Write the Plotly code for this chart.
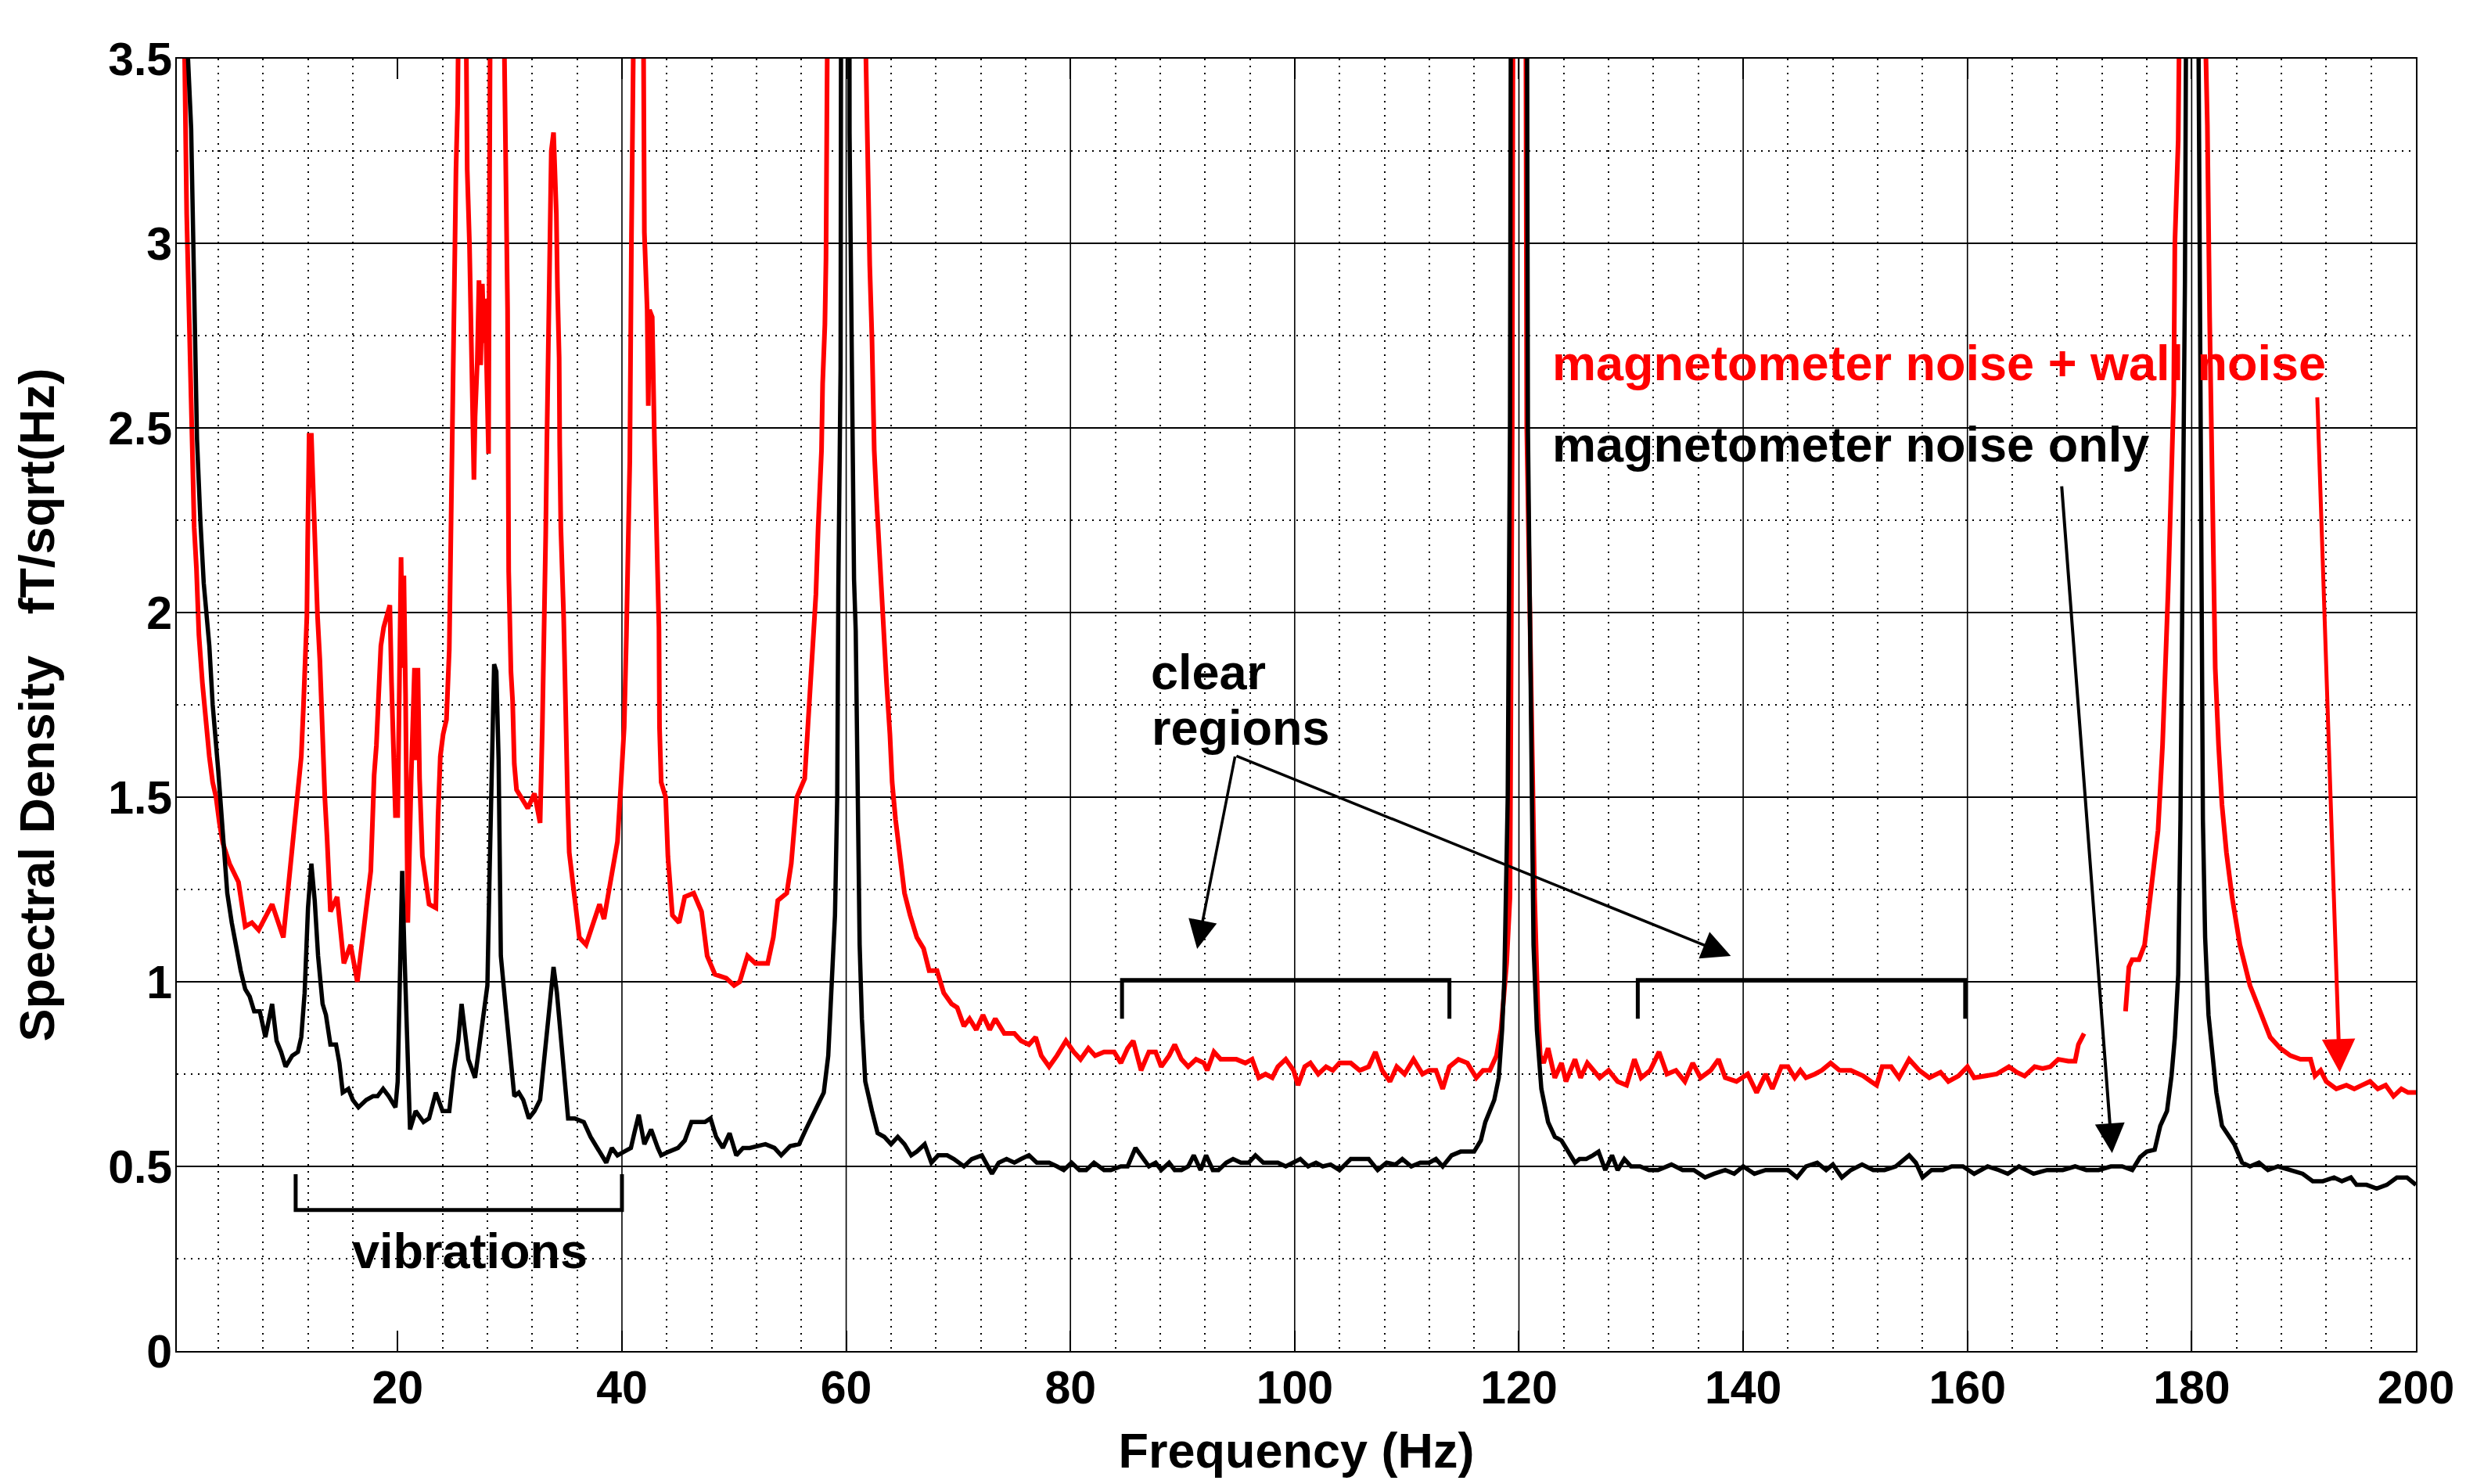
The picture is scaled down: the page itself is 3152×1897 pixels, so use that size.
import plotly.graph_objects as go

# ---- data (frequency in Hz, spectral density in fT/sqrt(Hz)) ----
RED = [
    (0.3, 8.0), (1.0, 3.5), (1.18, 3.08), (1.33, 2.88), (1.5, 2.69), (1.64, 2.50), (1.72, 2.34),
    (1.85, 2.23), (2.05, 2.12), (2.27, 1.94), (2.58, 1.81), (2.89, 1.69), (3.2, 1.61), (3.5, 1.54),
    (3.8, 1.50), (4.1, 1.43), (4.4, 1.376), (5.0, 1.32), (5.8, 1.27), (6.4, 1.15), (7.0, 1.16),
    (7.6, 1.14), (8.8, 1.21), (9.8, 1.12), (10.4, 1.30), (10.8, 1.40), (11.1, 1.50), (11.4, 1.61),
    (11.6, 1.75), (11.75, 1.87), (11.9, 1.99), (11.97, 2.19), (12.07, 2.38), (12.1, 2.48), (12.3, 2.48),
    (12.4, 2.38), (12.5, 2.26), (12.7, 2.12), (12.85, 1.99), (13.06, 1.87), (13.2, 1.75), (13.3, 1.61),
    (13.5, 1.50), (13.7, 1.39), (14.0, 1.19), (14.6, 1.23), (15.2, 1.05), (15.8, 1.10), (16.4, 1.00),
    (17.0, 1.15), (17.6, 1.30), (17.9, 1.56), (18.1, 1.64), (18.35, 1.81), (18.5, 1.91), (18.75, 1.96),
    (19.0, 1.99), (19.3, 2.02), (19.45, 1.81), (19.6, 1.66), (19.8, 1.45), (20.0, 1.45), (20.15, 1.95),
    (20.3, 2.15), (20.45, 1.85), (20.55, 2.10), (20.7, 1.78), (20.9, 1.16), (21.2, 1.55), (21.5, 1.85),
    (21.65, 1.60), (21.8, 1.85), (21.95, 1.55), (22.2, 1.34), (22.8, 1.21), (23.4, 1.20), (23.6, 1.45),
    (23.8, 1.61), (24.05, 1.67), (24.35, 1.71), (24.6, 1.90), (24.75, 2.24), (24.9, 2.57), (25.0, 2.91),
    (25.2, 3.20), (25.35, 3.38), (25.7, 4.5), (26.0, 4.0), (26.2, 3.20), (26.4, 3.00), (26.5, 2.79),
    (26.6, 2.61), (26.8, 2.36), (26.9, 2.53), (27.1, 2.68), (27.25, 2.90), (27.4, 2.67), (27.55, 2.89),
    (27.7, 2.73), (27.8, 2.85), (28.0, 2.58), (28.1, 2.43), (28.25, 3.6), (28.8, 4.5), (29.4, 3.8),
    (29.5, 3.40), (29.65, 3.18), (29.8, 2.82), (29.9, 2.11), (30.1, 1.84), (30.25, 1.76), (30.4, 1.59),
    (30.6, 1.52), (31.2, 1.49), (31.6, 1.47), (32.2, 1.51), (32.7, 1.43), (32.9, 1.69), (33.1, 1.98),
    (33.2, 2.21), (33.3, 2.45), (33.45, 2.70), (33.55, 2.96), (33.7, 3.25), (33.9, 3.30), (34.0, 3.22),
    (34.15, 3.08), (34.25, 2.88), (34.4, 2.69), (34.45, 2.45), (34.55, 2.23), (34.8, 1.99), (34.95, 1.74),
    (35.15, 1.50), (35.3, 1.35), (35.8, 1.21), (36.2, 1.12), (36.8, 1.10), (37.4, 1.16), (38.0, 1.21),
    (38.4, 1.17), (39.0, 1.28), (39.6, 1.38), (39.9, 1.53), (40.2, 1.69), (40.4, 1.94), (40.55, 2.19),
    (40.7, 2.41), (40.85, 3.02), (41.0, 3.7), (41.5, 5.0), (41.9, 3.7), (42.0, 3.03), (42.25, 2.82),
    (42.35, 2.56), (42.45, 2.82), (42.7, 2.80), (42.9, 2.46), (43.0, 2.35), (43.1, 2.17), (43.3, 1.96),
    (43.35, 1.69), (43.5, 1.54), (43.9, 1.50), (44.1, 1.34), (44.5, 1.18), (45.1, 1.16), (45.6, 1.23),
    (46.4, 1.24), (47.1, 1.19), (47.6, 1.07), (48.3, 1.02), (49.3, 1.01), (50.0, 0.99), (50.5, 1.00),
    (51.2, 1.07), (51.9, 1.05), (53.0, 1.05), (53.5, 1.12), (53.9, 1.22), (54.7, 1.24), (55.1, 1.32),
    (55.6, 1.50), (56.3, 1.55), (56.6, 1.71), (57.0, 1.91), (57.3, 2.05), (57.5, 2.23), (57.8, 2.44),
    (57.9, 2.62), (58.1, 2.78), (58.2, 2.96), (58.3, 3.18), (58.5, 3.41), (58.6, 3.6), (60.0, 12.0),
    (61.7, 3.6), (61.8, 3.39), (62.0, 3.16), (62.1, 2.94), (62.3, 2.74), (62.4, 2.58), (62.5, 2.44),
    (62.7, 2.31), (62.9, 2.19), (63.1, 2.05), (63.3, 1.93), (63.6, 1.81), (63.9, 1.67), (64.1, 1.54),
    (64.4, 1.44), (64.8, 1.34), (65.2, 1.24), (65.7, 1.18), (66.3, 1.12), (66.9, 1.09), (67.4, 1.03),
    (68.1, 1.03), (68.7, 0.97), (69.4, 0.94), (69.9, 0.93), (70.5, 0.88), (71.0, 0.90), (71.6, 0.87),
    (72.2, 0.91), (72.8, 0.87), (73.3, 0.90), (74.1, 0.86), (75.0, 0.86), (75.6, 0.84), (76.3, 0.83),
    (76.9, 0.85), (77.4, 0.80), (78.1, 0.77), (78.8, 0.80), (79.6, 0.84), (80.3, 0.81), (80.9, 0.79),
    (81.6, 0.82), (82.2, 0.80), (83.0, 0.81), (83.9, 0.81), (84.5, 0.78), (85.1, 0.82), (85.6, 0.84),
    (86.3, 0.76), (87.0, 0.81), (87.6, 0.81), (88.1, 0.77), (88.8, 0.80), (89.3, 0.83), (89.9, 0.79),
    (90.5, 0.77), (91.2, 0.79), (91.9, 0.78), (92.2, 0.76), (92.8, 0.81), (93.4, 0.79), (94.8, 0.79),
    (95.6, 0.78), (96.2, 0.79), (96.8, 0.74), (97.4, 0.75), (98.0, 0.74), (98.5, 0.77), (99.2, 0.79),
    (99.9, 0.76), (100.3, 0.72), (100.9, 0.77), (101.4, 0.78), (102.1, 0.75), (102.8, 0.77), (103.4, 0.76),
    (104.0, 0.78), (105.0, 0.78), (105.8, 0.76), (106.6, 0.77), (107.2, 0.81), (107.8, 0.76), (108.5, 0.73),
    (109.1, 0.77), (109.8, 0.75), (110.6, 0.79), (111.4, 0.75), (112.0, 0.76), (112.6, 0.76), (113.2, 0.71),
    (113.8, 0.77), (114.6, 0.79), (115.4, 0.78), (116.2, 0.74), (116.8, 0.76), (117.4, 0.76), (118.0, 0.80),
    (118.4, 0.87), (118.9, 1.05), (119.2, 1.23), (119.4, 2.5), (120.0, 12.0), (120.7, 2.5), (121.4, 1.23),
    (121.7, 0.91), (121.9, 0.80), (122.2, 0.78), (122.6, 0.82), (123.2, 0.74), (123.8, 0.78), (124.2, 0.73),
    (125.0, 0.79), (125.5, 0.74), (126.1, 0.78), (127.2, 0.74), (128.0, 0.76), (128.8, 0.73), (129.6, 0.72),
    (130.3, 0.79), (130.9, 0.74), (131.7, 0.76), (132.5, 0.81), (133.2, 0.75), (134.0, 0.76), (134.8, 0.73),
    (135.5, 0.78), (136.2, 0.74), (137.1, 0.76), (137.8, 0.79), (138.4, 0.74), (139.4, 0.73), (140.4, 0.75),
    (141.2, 0.70), (142.0, 0.75), (142.6, 0.71), (143.4, 0.77), (144.0, 0.77), (144.6, 0.74), (145.1, 0.76),
    (145.6, 0.74), (146.4, 0.75), (147.0, 0.76), (147.8, 0.78), (148.6, 0.76), (149.6, 0.76), (150.7, 0.745),
    (151.4, 0.73), (151.9, 0.72), (152.4, 0.77), (153.2, 0.77), (153.9, 0.74), (154.8, 0.79), (155.7, 0.76),
    (156.6, 0.74), (157.6, 0.755), (158.3, 0.73), (159.2, 0.745), (160.0, 0.77), (160.6, 0.74), (161.5, 0.745),
    (162.6, 0.75), (163.7, 0.77), (164.4, 0.755), (165.1, 0.745), (166.0, 0.77), (166.7, 0.765), (167.4, 0.77),
    (168.1, 0.79), (169.0, 0.785), (169.6, 0.785), (169.9, 0.83), (170.4, 0.86), (172.0, None),
    (174.1, 0.92), (174.4, 1.04), (174.7, 1.06), (175.3, 1.06), (175.8, 1.10), (176.2, 1.20), (176.7, 1.31),
    (177.0, 1.41), (177.4, 1.64), (177.7, 1.85), (177.9, 2.06), (178.1, 2.27), (178.4, 2.59), (178.5, 3.0),
    (178.8, 3.28), (178.9, 3.6), (180.0, 12.0), (181.2, 3.6), (181.4, 3.32), (181.6, 2.80), (181.9, 2.31),
    (182.1, 1.85), (182.4, 1.64), (182.7, 1.48), (183.1, 1.35), (183.6, 1.23), (184.3, 1.10), (185.2, 0.99),
    (186.1, 0.92), (187.0, 0.85), (187.9, 0.82), (188.8, 0.80), (189.7, 0.79), (190.6, 0.79), (191.0, 0.745),
    (191.5, 0.76), (192.0, 0.73), (192.9, 0.71), (193.8, 0.72), (194.5, 0.71), (195.2, 0.72), (195.9, 0.73),
    (196.6, 0.71), (197.3, 0.72), (198.0, 0.69), (198.7, 0.71), (199.3, 0.70), (200.0, 0.70),
]

BLACK = [
    (0.3, 8.0), (1.3, 3.5), (1.58, 3.31), (1.8, 2.95), (1.9, 2.69), (2.1, 2.47), (2.4, 2.25), (2.7, 2.08),
    (3.2, 1.91), (3.5, 1.75), (4.0, 1.57), (4.4, 1.40), (4.8, 1.24), (5.2, 1.16), (5.6, 1.09), (6.0, 1.03),
    (6.4, 0.98), (6.8, 0.96), (7.2, 0.92), (7.7, 0.92), (8.2, 0.85), (8.8, 0.94), (9.2, 0.84), (9.6, 0.81),
    (10.0, 0.77), (10.6, 0.80), (11.1, 0.81), (11.4, 0.85), (11.7, 0.97), (12.0, 1.20), (12.3, 1.32),
    (12.6, 1.22), (12.9, 1.07), (13.3, 0.94), (13.6, 0.91), (14.0, 0.83), (14.5, 0.83), (14.8, 0.78),
    (15.1, 0.70), (15.6, 0.71), (16.0, 0.68), (16.5, 0.66), (17.2, 0.68), (17.8, 0.69), (18.2, 0.69),
    (18.7, 0.71), (19.2, 0.69), (19.8, 0.66), (20.0, 0.73), (20.2, 1.05), (20.4, 1.30), (20.6, 1.08),
    (20.8, 0.85), (21.1, 0.60), (21.6, 0.65), (22.3, 0.62), (22.8, 0.63), (23.4, 0.70), (24.0, 0.65),
    (24.6, 0.65), (25.0, 0.76), (25.4, 0.84), (25.7, 0.94), (26.0, 0.87), (26.3, 0.79), (26.9, 0.74),
    (27.3, 0.83), (27.6, 0.90), (28.0, 0.99), (28.2, 1.30), (28.4, 1.60), (28.6, 1.86), (28.8, 1.84),
    (29.0, 1.60), (29.1, 1.34), (29.2, 1.07), (29.6, 0.94), (30.0, 0.81), (30.4, 0.69), (30.8, 0.70),
    (31.2, 0.68), (31.7, 0.63), (32.2, 0.65), (32.7, 0.68), (33.0, 0.77), (33.4, 0.91), (33.9, 1.04),
    (34.2, 0.97), (34.6, 0.83), (35.0, 0.70), (35.2, 0.63), (35.8, 0.63), (36.6, 0.62), (37.2, 0.58),
    (37.8, 0.55), (38.2, 0.53), (38.6, 0.51), (39.1, 0.55), (39.6, 0.53), (40.2, 0.54), (40.8, 0.55),
    (41.1, 0.59), (41.5, 0.64), (42.0, 0.56), (42.6, 0.60), (43.2, 0.55), (43.5, 0.53), (44.2, 0.54),
    (45.0, 0.55), (45.6, 0.57), (46.2, 0.62), (46.8, 0.62), (47.4, 0.62), (47.9, 0.63), (48.4, 0.58),
    (49.0, 0.55), (49.6, 0.59), (50.2, 0.53), (50.8, 0.55), (51.4, 0.55), (52.2, 0.555), (52.8, 0.56),
    (53.6, 0.55), (54.2, 0.53), (55.0, 0.555), (55.8, 0.56), (56.4, 0.60), (57.0, 0.64), (57.6, 0.68),
    (58.0, 0.70), (58.4, 0.80), (58.7, 1.00), (59.0, 1.18), (59.2, 1.50), (59.3, 2.07), (59.5, 2.66),
    (59.6, 3.20), (60.0, 14.0), (60.3, 3.3), (60.45, 2.9), (60.6, 2.4), (60.7, 2.09), (60.85, 1.95),
    (61.0, 1.45), (61.2, 1.10), (61.4, 0.90), (61.5, 0.84), (61.7, 0.73), (62.3, 0.65), (62.8, 0.59),
    (63.4, 0.58), (64.0, 0.56), (64.6, 0.58), (65.2, 0.56), (65.8, 0.53), (66.3, 0.54), (67.0, 0.56),
    (67.6, 0.51), (68.2, 0.53), (69.0, 0.53), (69.6, 0.52), (70.5, 0.50), (71.2, 0.52), (72.1, 0.53),
    (73.0, 0.48), (73.6, 0.51), (74.3, 0.52), (75.0, 0.51), (75.6, 0.52), (76.3, 0.53), (77.0, 0.51),
    (78.1, 0.51), (78.8, 0.50), (79.4, 0.49), (80.1, 0.51), (80.8, 0.49), (81.4, 0.49), (82.1, 0.51),
    (83.0, 0.49), (83.6, 0.49), (84.5, 0.50), (85.1, 0.50), (85.8, 0.55), (86.3, 0.53), (87.0, 0.50),
    (87.6, 0.51), (88.1, 0.49), (88.8, 0.51), (89.3, 0.49), (89.9, 0.49), (90.5, 0.50), (91.0, 0.53),
    (91.6, 0.49), (92.1, 0.53), (92.7, 0.49), (93.2, 0.49), (93.9, 0.51), (94.5, 0.52), (95.2, 0.51),
    (95.9, 0.51), (96.5, 0.53), (97.2, 0.51), (97.9, 0.51), (98.5, 0.51), (99.2, 0.50), (99.9, 0.51),
    (100.5, 0.52), (101.2, 0.50), (101.9, 0.51), (102.5, 0.50), (103.2, 0.505), (104.0, 0.49), (105.0, 0.52),
    (105.8, 0.52), (106.6, 0.52), (107.4, 0.49), (108.2, 0.51), (109.0, 0.505), (109.6, 0.52), (110.4, 0.50),
    (111.2, 0.51), (112.0, 0.51), (112.6, 0.52), (113.2, 0.50), (114.0, 0.53), (114.8, 0.54), (115.4, 0.54),
    (116.0, 0.54), (116.6, 0.57), (117.0, 0.62), (117.4, 0.65), (117.8, 0.68), (118.2, 0.74), (118.5, 0.87),
    (118.7, 1.01), (119.0, 1.5), (119.2, 2.5), (120.0, 14.0), (120.8, 2.5), (121.1, 1.5), (121.3, 1.1),
    (121.6, 0.87), (122.0, 0.71), (122.6, 0.62), (123.2, 0.58), (123.8, 0.57), (124.4, 0.54), (125.0, 0.51),
    (125.4, 0.52), (126.0, 0.52), (126.6, 0.53), (127.1, 0.54), (127.7, 0.49), (128.3, 0.53), (128.8, 0.49),
    (129.4, 0.52), (130.0, 0.50), (130.8, 0.50), (131.6, 0.49), (132.4, 0.49), (133.6, 0.505), (134.6, 0.49),
    (135.6, 0.49), (136.6, 0.47), (137.4, 0.48), (138.4, 0.49), (139.2, 0.48), (140.0, 0.50), (141.0, 0.48),
    (142.0, 0.49), (143.0, 0.49), (144.0, 0.49), (144.8, 0.47), (145.6, 0.50), (146.6, 0.51), (147.4, 0.49),
    (148.0, 0.505), (148.8, 0.47), (149.6, 0.49), (150.6, 0.505), (151.6, 0.49), (152.6, 0.49), (153.6, 0.50),
    (154.8, 0.53), (155.4, 0.51), (156.0, 0.47), (156.8, 0.49), (157.8, 0.49), (158.6, 0.50), (159.6, 0.50),
    (160.6, 0.48), (161.8, 0.50), (162.8, 0.49), (163.6, 0.48), (164.6, 0.50), (165.9, 0.48), (167.1, 0.49),
    (168.5, 0.49), (169.6, 0.50), (170.6, 0.49), (171.7, 0.49), (172.8, 0.50), (173.8, 0.50), (174.7, 0.49),
    (175.4, 0.525), (176.0, 0.54), (176.7, 0.545), (177.2, 0.61), (177.8, 0.65), (178.2, 0.745), (178.5, 0.85),
    (178.8, 1.02), (179.0, 1.44), (179.2, 2.06), (179.4, 2.90), (179.5, 3.6), (180.0, 14.0), (180.6, 3.6),
    (180.7, 2.90), (180.9, 2.06), (181.0, 1.44), (181.2, 1.12), (181.5, 0.91), (181.9, 0.79), (182.2, 0.70),
    (182.7, 0.61), (183.3, 0.58), (183.8, 0.56), (184.5, 0.51), (185.2, 0.50), (186.0, 0.51), (186.8, 0.49),
    (187.7, 0.50), (188.8, 0.49), (189.9, 0.48), (190.8, 0.46), (191.7, 0.46), (192.7, 0.47), (193.4, 0.46),
    (194.2, 0.47), (194.7, 0.45), (195.6, 0.45), (196.5, 0.44), (197.4, 0.45), (198.3, 0.47), (199.2, 0.47),
    (200.0, 0.45),
]

RED_FREQ = [p[0] for p in RED]
RED_PSD = [p[1] for p in RED]
BLACK_FREQ = [p[0] for p in BLACK]
BLACK_PSD = [p[1] for p in BLACK]

X_TICKS = [20, 40, 60, 80, 100, 120, 140, 160, 180, 200]
X_MINOR = [v for v in range(4, 200, 4) if v % 20 != 0]
Y_TICKS = [0, 0.5, 1, 1.5, 2, 2.5, 3, 3.5]
Y_TICK_TEXT = ["0", "0.5", "1", "1.5", "2", "2.5", "3", "3.5"]
Y_MINOR = [0.25, 0.75, 1.25, 1.75, 2.25, 2.75, 3.25]
X_RANGE = [0.3, 200]
Y_RANGE = [0, 3.5]

X_TITLE = "Frequency (Hz)"
Y_TITLE = "Spectral Density\u00a0\u00a0\u00a0fT/sqrt(Hz)"

# text labels: (text, x, y, color, xanchor)
TEXT_LABELS = [
    ("magnetometer noise + wall noise", 122.85, 2.675, "#ff0000", "left"),
    ("magnetometer noise only", 122.85, 2.455, "#000000", "left"),
    ("clear", 87.0, 1.84, "#000000", "left"),
    ("regions", 87.1, 1.688, "#000000", "left"),
    ("vibrations", 26.4, 0.272, "#000000", "center"),
]
# arrows: (tail x, tail y, tip x, tip y, color, width, head size)
ARROWS = [
    (94.7, 1.613, 91.3, 1.089, "#000000", 3.5, 2.1),
    (94.7, 1.613, 138.9, 1.070, "#000000", 3.5, 2.1),
    (168.4, 2.345, 172.9, 0.536, "#000000", 4, 1.9),
    (191.2, 2.586, 193.2, 0.755, "#ff0000", 5, 1.7),
]
# brackets: (x start, x end, bar level, end level)
BRACKETS = [
    (10.9, 40.0, 0.382, 0.479),
    (84.6, 113.8, 1.005, 0.90),
    (130.6, 159.8, 1.005, 0.90),
]

FONT = "Liberation Sans, Arial, Helvetica, sans-serif"
PAGE_OFFSET = 8  # default body margin of the html page

fig = go.Figure()
fig.add_trace(go.Scatter(x=RED_FREQ, y=RED_PSD, mode="lines", connectgaps=False,
                         line=dict(color="#ff0000", width=6), showlegend=False,
                         name="magnetometer noise + wall noise"))
fig.add_trace(go.Scatter(x=BLACK_FREQ, y=BLACK_PSD, mode="lines",
                         line=dict(color="#000000", width=5.5), showlegend=False,
                         name="magnetometer noise only"))

shapes = []
for v in X_TICKS[1:-1]:
    shapes.append(dict(type="line", xref="x", yref="paper", x0=v, x1=v, y0=0, y1=1,
                       line=dict(color="#000000", width=1.6), layer="below"))
for x0, x1, yb, ye in BRACKETS:
    shapes.append(dict(type="path", xref="x", yref="y",
                       path=f"M {x0},{ye} L {x0},{yb} L {x1},{yb} L {x1},{ye}",
                       line=dict(color="#000000", width=5)))

annotations = []
for text, x, y, color, xa in TEXT_LABELS:
    annotations.append(dict(text=text, x=x, y=y, xref="x", yref="y", showarrow=False,
                            xanchor=xa, yanchor="middle",
                            font=dict(family=FONT, size=63, color=color, weight="bold")))
for tx, ty, hx, hy, color, w, hs in ARROWS:
    annotations.append(dict(text="", x=hx, y=hy, ax=tx, ay=ty, xref="x", yref="y",
                            axref="x", ayref="y", showarrow=True, arrowhead=2,
                            arrowsize=hs, arrowwidth=w, arrowcolor=color))

fig.update_layout(
    width=3152 - 2 * PAGE_OFFSET, height=1897 - 2 * PAGE_OFFSET,
    margin=dict(l=226 - PAGE_OFFSET, r=64 - PAGE_OFFSET, t=75 - PAGE_OFFSET,
                b=170 - PAGE_OFFSET, autoexpand=False),
    paper_bgcolor="white", plot_bgcolor="white",
    font=dict(family=FONT, color="#000000", weight="bold"),
    shapes=shapes, annotations=annotations,
)
fig.update_xaxes(
    range=X_RANGE, tickvals=X_TICKS, ticktext=[str(v) for v in X_TICKS],
    showgrid=False, zeroline=False, automargin=False,
    showline=True, mirror="ticks", linecolor="#000000", linewidth=2,
    ticks="inside", ticklen=26, tickwidth=1.6, tickcolor="#000000",
    ticklabelstandoff=-6,
    tickfont=dict(family=FONT, size=59, color="#000000", weight="bold"),
    minor=dict(tickmode="array", tickvals=X_MINOR, showgrid=True, gridcolor="#000000",
               gridwidth=1.5, griddash="2px,7px", ticks=""),
    title=dict(text=X_TITLE, font=dict(family=FONT, size=63, color="#000000", weight="bold"),
               standoff=30),
)
fig.update_yaxes(
    range=Y_RANGE, tickvals=Y_TICKS, ticktext=Y_TICK_TEXT,
    showgrid=True, gridcolor="#000000", gridwidth=1.6, zeroline=False, automargin=False,
    showline=True, mirror="ticks", linecolor="#000000", linewidth=2,
    ticks="inside", ticklen=26, tickwidth=1.6, tickcolor="#000000",
    ticklabelstandoff=-8,
    tickfont=dict(family=FONT, size=59, color="#000000", weight="bold"),
    minor=dict(tickmode="array", tickvals=Y_MINOR, showgrid=True, gridcolor="#000000",
               gridwidth=1.5, griddash="2px,7px", ticks=""),
    title=dict(text=Y_TITLE, font=dict(family=FONT, size=63, color="#000000", weight="bold"),
               standoff=48),
)

fig.write_html("out.html")
